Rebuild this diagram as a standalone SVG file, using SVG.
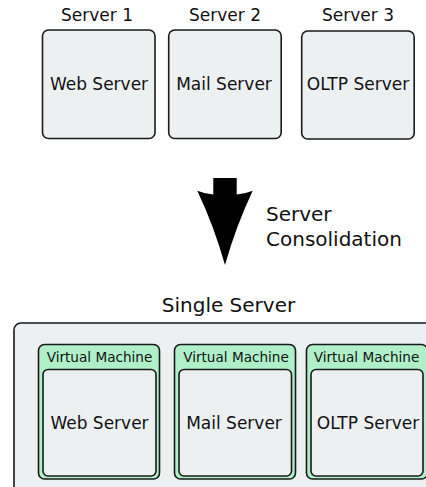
<svg xmlns="http://www.w3.org/2000/svg" width="426" height="487" viewBox="0 0 426 487">
  <style>
    text { font-family: "DejaVu Sans", "Liberation Sans", sans-serif; fill: #111; text-anchor: middle; }
    .box { fill: #ecf0f1; stroke: #1a1a1a; stroke-width: 1.6; }
    .vm { fill: #b0f0c8; stroke: #1a1a1a; stroke-width: 1.6; }
    .lbl { font-size: 17px; }
    .big { font-size: 20px; }
    .vmt { font-size: 13.6px; }
  </style>

  <!-- standalone servers -->
  <g id="server1">
    <text class="lbl" x="97" y="21">Server 1</text>
    <rect class="box" x="42.5" y="30" width="112.5" height="108.5" rx="6"/>
    <text class="lbl" x="99" y="90">Web Server</text>
  </g>
  <g id="server2">
    <text class="lbl" x="225" y="21">Server 2</text>
    <rect class="box" x="168.7" y="30" width="112.5" height="108.5" rx="6"/>
    <text class="lbl" x="224" y="90">Mail Server</text>
  </g>
  <g id="server3">
    <text class="lbl" x="358" y="21">Server 3</text>
    <rect class="box" x="301.7" y="31" width="112.5" height="108" rx="6"/>
    <text class="lbl" x="358" y="90">OLTP Server</text>
  </g>

  <!-- consolidation step -->
  <g id="connectors">
    <path d="M213.3,178 H236.7 V194.5 Q246,193.5 252.7,190.7 Q236,226 225,265 Q214,226 197.3,190.7 Q204,193.5 213.3,194.5 Z" fill="#000"/>
  </g>
  <g id="consolidation-label">
    <text class="big" x="266" y="221" style="text-anchor:start">Server</text>
    <text class="big" x="266" y="246" style="text-anchor:start">Consolidation</text>
  </g>

  <!-- consolidated host -->
  <g id="single-server">
    <text class="big" x="228.5" y="312">Single Server</text>
    <rect class="box" x="14" y="323" width="430" height="180" rx="7"/>
  </g>
  <g id="vm1">
    <rect class="vm" x="38.5" y="344.5" width="121" height="134.5" rx="6"/>
    <text class="vmt" x="99.5" y="361.5">Virtual Machine</text>
    <rect class="box" x="43" y="369.5" width="113" height="106.5" rx="5"/>
    <text class="lbl" x="99.5" y="429">Web Server</text>
  </g>
  <g id="vm2">
    <rect class="vm" x="174.5" y="344.5" width="121" height="134.5" rx="6"/>
    <text class="vmt" x="236" y="361.5">Virtual Machine</text>
    <rect class="box" x="179" y="369.5" width="112.5" height="106.5" rx="5"/>
    <text class="lbl" x="234" y="429">Mail Server</text>
  </g>
  <g id="vm3">
    <rect class="vm" x="306.5" y="344.5" width="121" height="134.5" rx="6"/>
    <text class="vmt" x="366.5" y="361.5">Virtual Machine</text>
    <rect class="box" x="311" y="369.5" width="112" height="106.5" rx="5"/>
    <text class="lbl" x="368" y="429">OLTP Server</text>
  </g>
</svg>
